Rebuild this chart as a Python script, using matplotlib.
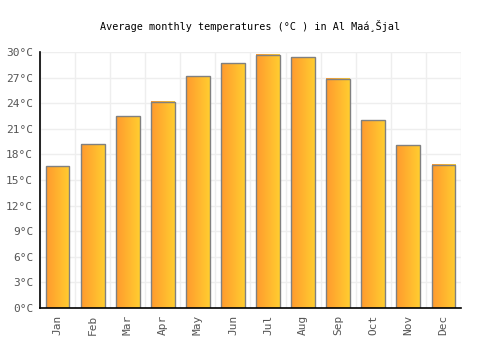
import numpy as np
import matplotlib
matplotlib.use("Agg")
import matplotlib.pyplot as plt
from matplotlib.colors import LinearSegmentedColormap

months = ["Jan", "Feb", "Mar", "Apr", "May", "Jun",
          "Jul", "Aug", "Sep", "Oct", "Nov", "Dec"]
temps = [16.6, 19.2, 22.5, 24.2, 27.2, 28.7, 29.7, 29.4, 26.9, 22.0, 19.1, 16.8]
y_ticks = [0, 3, 6, 9, 12, 15, 18, 21, 24, 27, 30]

plt.rcParams["font.family"] = ["DejaVu Sans Mono"]

fig = plt.figure(figsize=(5, 3.5), dpi=100)
ax = fig.add_axes([0.08, 0.12, 0.842, 0.731])

x = np.arange(len(months))
width = 0.68
bars = ax.bar(x, temps, width=width, color="none", edgecolor="#808080",
              linewidth=1.0, zorder=4)

# left-to-right orange gradient inside each bar
cmap = LinearSegmentedColormap.from_list("orng", ["#ff9a2e", "#ffcd30"])
grad = np.linspace(0, 1, 64).reshape(1, -1)
for b in bars:
    ax.imshow(grad, cmap=cmap, aspect="auto", zorder=3,
              extent=[b.get_x(), b.get_x() + b.get_width(), 0, b.get_height()])

ax.set_xlim(-0.5, len(months) - 0.5)
ax.set_ylim(0, 30)
ax.set_xticks(x)
ax.set_xticklabels(months, rotation=90, fontsize=8, color="#555555")
ax.set_yticks(y_ticks)
ax.set_yticklabels([f"{t}°C" for t in y_ticks], fontsize=8, color="#555555")
ax.tick_params(length=0, pad=5)

ax.set_xticks(np.arange(len(months) + 1) - 0.5, minor=True)
ax.tick_params(which="minor", length=0)
ax.grid(True, which="minor", axis="x", color="#eeeeee", linewidth=1, zorder=0)
ax.grid(True, which="major", axis="y", color="#eeeeee", linewidth=1, zorder=0)
ax.set_axisbelow(True)

for s in ["top", "right"]:
    ax.spines[s].set_visible(False)
for s in ["left", "bottom"]:
    ax.spines[s].set_color("black")
    ax.spines[s].set_linewidth(1.2)
    ax.spines[s].set_zorder(5)

fig.text(0.5, 0.925, "Average monthly temperatures (°C ) in Al Maá¸Šjal",
         ha="center", va="center", fontsize=7.3, color="black")

fig.savefig("out.png", dpi=100)
